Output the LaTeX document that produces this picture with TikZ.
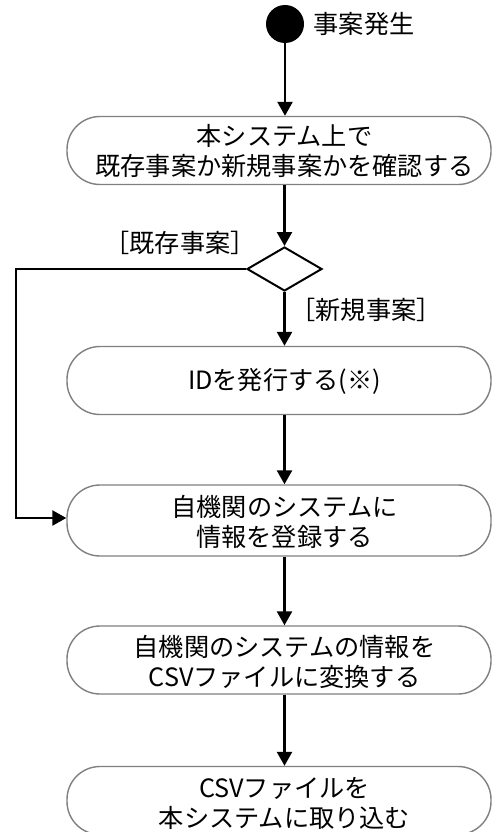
\documentclass[tikz,border=0pt]{standalone}
\usepackage{fontspec}
\setmainfont{Noto Sans CJK JP}
\usetikzlibrary{arrows.meta,shapes.geometric}
\tikzset{
  actbox/.style={draw=black!50, line width=1.4pt, rounded corners=33pt, minimum width=424pt, minimum height=68pt, inner sep=0pt},
  acttext/.style={align=center, inner sep=0pt, font=\fontsize{25.2}{30}\selectfont},
  arr/.style={draw=black, line width=2.5pt, -{Triangle[length=14pt,width=15pt]}},
  lbl/.style={font=\fontsize{25.2}{30}\selectfont, inner sep=0pt}
}
\begin{document}
\begin{tikzpicture}[x=1pt,y=-1pt]
\useasboundingbox (0,0) rectangle (494,832);
\clip (0,0) rectangle (494,832);
\node[circle, fill=black, minimum size=38pt, inner sep=0pt] (start) at (285,24) {};
\node[lbl] (startlbl) at (364,24) {事案発生};
\node[actbox] (b1) at (279,150.5) {};
\node[acttext] (b1t) at (284.5,150.5) {本システム上で\\既存事案か新規事案かを確認する};
\node[diamond, draw=black, line width=2pt, minimum width=75pt, minimum height=44pt, inner sep=0pt, aspect=1.7] (dia) at (284.5,269) {};
\node[lbl] (l1) at (180,243) {［既存事案］};
\node[lbl] (l2) at (366,310) {［新規事案］};
\node[actbox] (b2) at (279,380.5) {};
\node[acttext] (b2t) at (284.5,381.5) {IDを発行する(※)};
\node[actbox, minimum height=71pt] (b3) at (279,520.5) {};
\node[acttext] (b3t) at (284.5,522) {自機関のシステムに\\情報を登録する};
\node[actbox] (b4) at (279,660) {};
\node[acttext] (b4t) at (284.5,662) {自機関のシステムの情報を\\CSVファイルに変換する};
\node[actbox] (b5) at (279,800.5) {};
\node[acttext] (b5t) at (284.5,803) {CSVファイルを\\本システムに取り込む};
\coordinate (lp) at (16,518);
\draw[arr] (start) -- (start |- b1.north);
\draw[arr] (dia |- b1.south) -- (dia.north);
\draw[arr] (dia.south) -- (dia |- b2.north);
\draw[arr] (dia |- b2.south) -- (dia |- b3.north);
\draw[arr] (dia |- b3.south) -- (dia |- b4.north);
\draw[arr] (dia |- b4.south) -- (dia |- b5.north);
\draw[arr] (dia.west) -| (lp) -- (b3.west |- lp);
\end{tikzpicture}
\end{document}
